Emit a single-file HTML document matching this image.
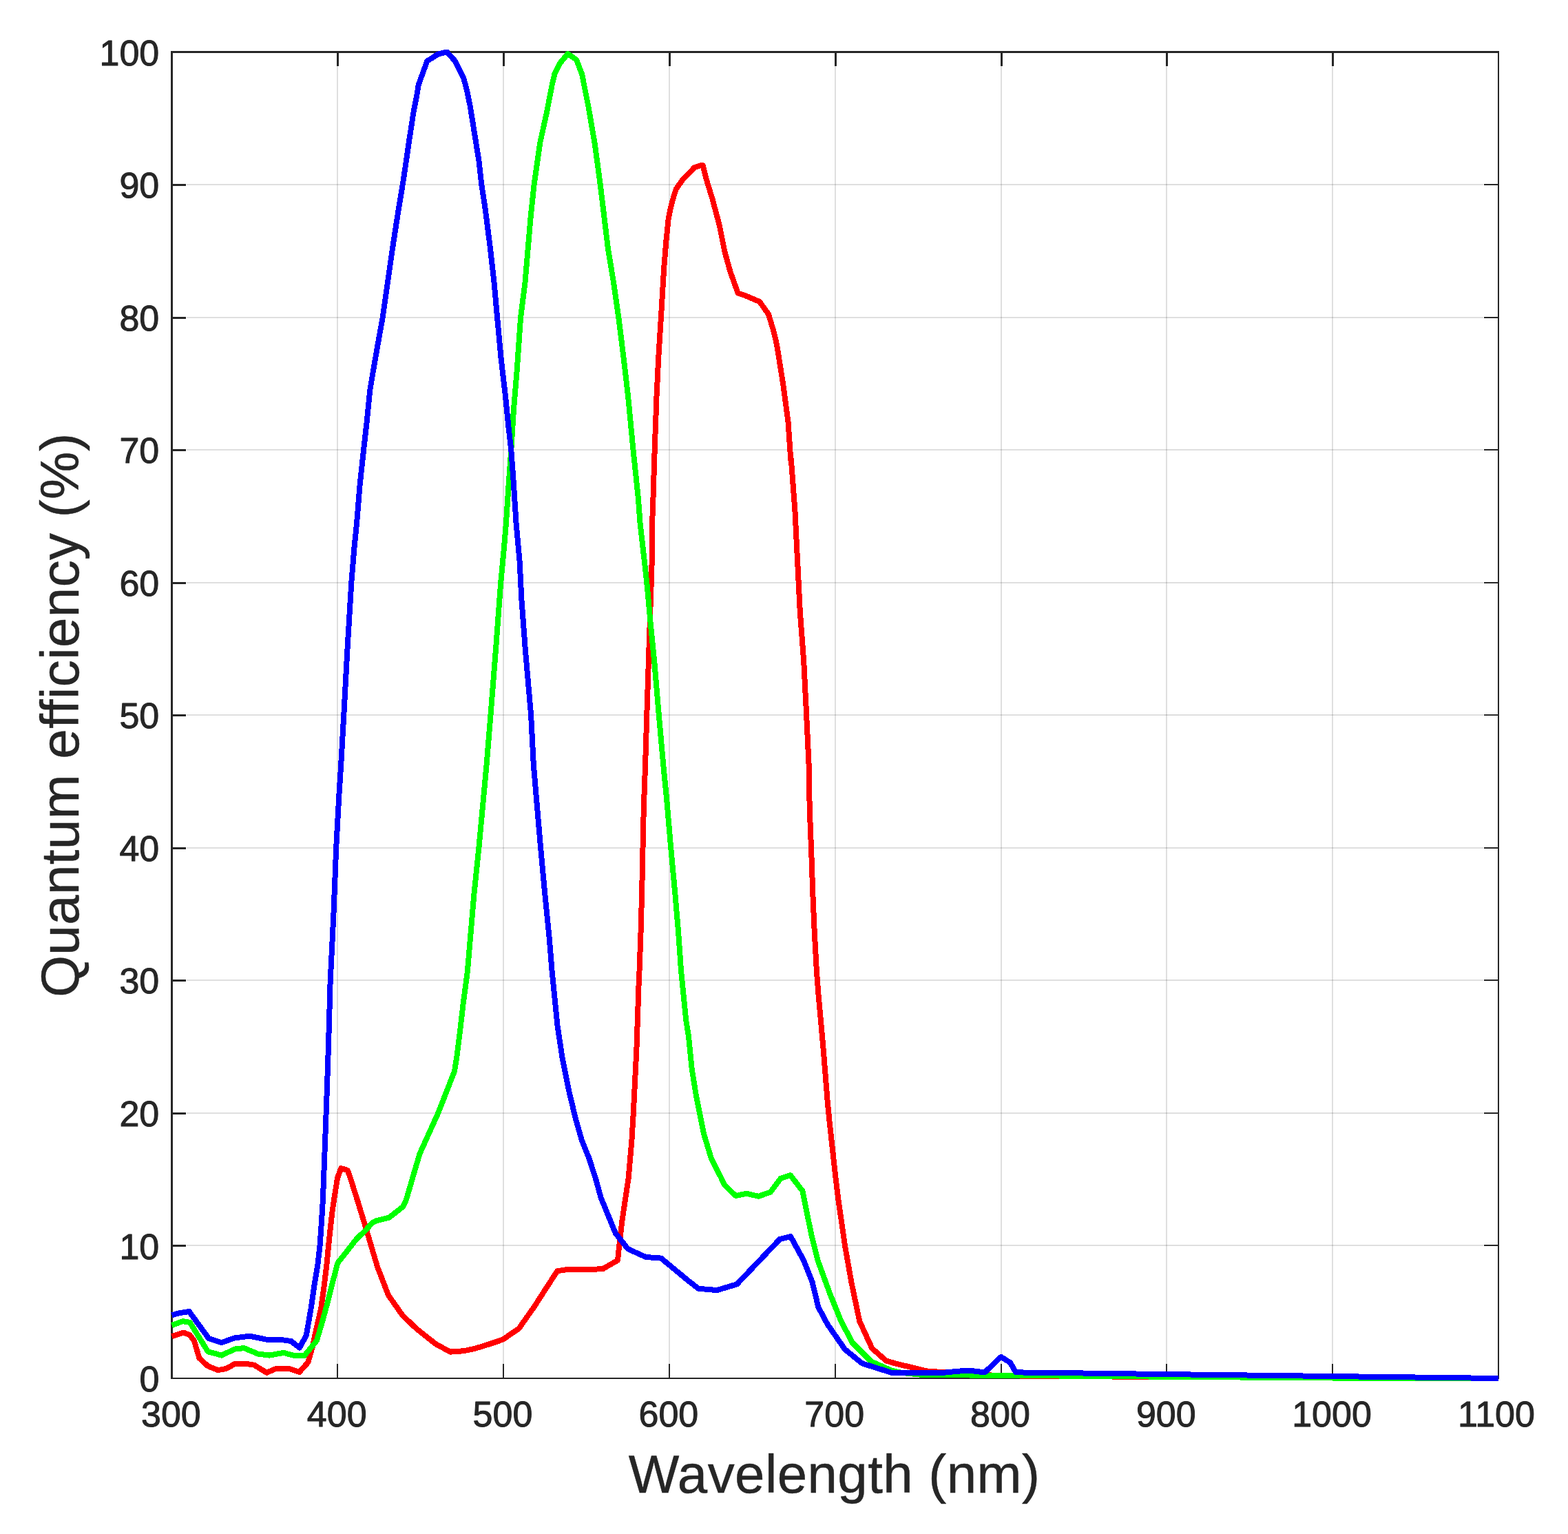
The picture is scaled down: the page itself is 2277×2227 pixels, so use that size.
<!DOCTYPE html>
<html lang="en"><head><meta charset="utf-8"><title>Quantum efficiency vs wavelength</title>
<style>html,body{margin:0;padding:0;background:#fff}body{width:2277px;height:2227px;overflow:hidden}svg{display:block}text{font-family:"Liberation Sans",Arial,Helvetica,sans-serif;fill:#262626;font-kerning:normal;font-variant-ligatures:none}</style>
</head><body>
<svg xmlns="http://www.w3.org/2000/svg" width="2277" height="2227" viewBox="0 0 2277 2227">
<rect x="0" y="0" width="2277" height="2227" fill="#fff"/>
<g fill="#262626" fill-opacity="0.15" shape-rendering="crispEdges">
<rect x="489" y="96" width="2" height="1884"/>
<rect x="730" y="96" width="2" height="1884"/>
<rect x="971" y="96" width="2" height="1884"/>
<rect x="1212" y="96" width="2" height="1884"/>
<rect x="1453" y="96" width="2" height="1884"/>
<rect x="1693" y="96" width="2" height="1884"/>
<rect x="1934" y="96" width="2" height="1884"/>
<rect x="271" y="1807" width="1883" height="2"/>
<rect x="271" y="1615" width="1883" height="2"/>
<rect x="271" y="1422" width="1883" height="2"/>
<rect x="271" y="1230" width="1883" height="2"/>
<rect x="271" y="1037" width="1883" height="2"/>
<rect x="271" y="845" width="1883" height="2"/>
<rect x="271" y="652" width="1883" height="2"/>
<rect x="271" y="460" width="1883" height="2"/>
<rect x="271" y="267" width="1883" height="2"/>
</g>
<g fill="#262626" shape-rendering="crispEdges">
<rect x="248" y="74" width="1929" height="3"/>
<rect x="248" y="74" width="3" height="1928"/>
<rect x="248" y="2000" width="1929" height="2"/>
<rect x="2175" y="74" width="2" height="1928"/>
<rect x="489" y="77" width="3" height="19"/>
<rect x="489" y="1980" width="2" height="20"/>
<rect x="730" y="77" width="3" height="19"/>
<rect x="730" y="1980" width="2" height="20"/>
<rect x="971" y="77" width="3" height="19"/>
<rect x="971" y="1980" width="2" height="20"/>
<rect x="1212" y="77" width="3" height="19"/>
<rect x="1212" y="1980" width="2" height="20"/>
<rect x="1453" y="77" width="3" height="19"/>
<rect x="1453" y="1980" width="2" height="20"/>
<rect x="1693" y="77" width="3" height="19"/>
<rect x="1693" y="1980" width="2" height="20"/>
<rect x="1934" y="77" width="3" height="19"/>
<rect x="1934" y="1980" width="2" height="20"/>
<rect x="251" y="1807" width="19" height="3"/>
<rect x="2155" y="1807" width="20" height="2"/>
<rect x="251" y="1615" width="19" height="3"/>
<rect x="2155" y="1615" width="20" height="2"/>
<rect x="251" y="1422" width="19" height="3"/>
<rect x="2155" y="1422" width="20" height="2"/>
<rect x="251" y="1230" width="19" height="3"/>
<rect x="2155" y="1230" width="20" height="2"/>
<rect x="251" y="1037" width="19" height="3"/>
<rect x="2155" y="1037" width="20" height="2"/>
<rect x="251" y="845" width="19" height="3"/>
<rect x="2155" y="845" width="20" height="2"/>
<rect x="251" y="652" width="19" height="3"/>
<rect x="2155" y="652" width="20" height="2"/>
<rect x="251" y="460" width="19" height="3"/>
<rect x="2155" y="460" width="20" height="2"/>
<rect x="251" y="267" width="19" height="3"/>
<rect x="2155" y="267" width="20" height="2"/>
</g>
<clipPath id="c"><rect x="248" y="72" width="1928" height="1934"/></clipPath>
<g clip-path="url(#c)">
<polyline points="249.5,1940.3 266.3,1934.5 275.7,1938.2 282.0,1946.6 289.4,1971.8 302.0,1983.3 316.7,1989.1 328.2,1987.0 341.9,1979.6 355.5,1979.6 369.2,1981.7 387.1,1992.8 401.8,1986.5 418.6,1986.5 434.7,1992.0 447.3,1977.9 453.6,1955.8 459.1,1930.6 466.2,1899.1 470.6,1867.6 474.4,1836.1 477.2,1807.7 480.0,1780.9 482.7,1757.3 486.3,1733.6 490.1,1710.0 495.3,1696.0 504.8,1699.1 508.7,1710.0 519.7,1744.7 530.8,1780.9 538.7,1807.7 548.1,1839.2 563.9,1880.2 584.3,1909.3 604.8,1929.0 633.2,1951.5 653.9,1962.6 663.1,1962.1 674.7,1961.0 686.2,1958.6 697.8,1955.4 709.4,1951.7 720.9,1947.9 730.2,1944.7 753.6,1928.6 775.6,1897.3 809.2,1845.3 822.9,1843.1 874.9,1842.4 897.0,1829.7 899.3,1807.7 903.3,1773.0 908.0,1741.5 912.7,1710.0 917.4,1655.8 919.8,1615.8 922.2,1567.6 924.5,1520.3 926.1,1473.0 927.7,1425.8 928.5,1410.0 930.8,1346.3 932.4,1283.3 933.5,1230.7 934.8,1173.0 937.1,1110.0 939.3,1037.9 941.2,980.6 943.0,925.4 944.9,870.3 946.7,815.1 947.1,760.0 948.5,722.5 950.7,653.0 953.5,575.4 956.2,520.3 959.9,460.9 964.2,389.1 967.4,349.7 970.6,318.2 973.8,302.4 978.3,285.1 982.0,274.1 991.3,261.0 1008.3,243.3 1017.2,240.2 1020.7,240.2 1025.6,259.9 1034.3,288.2 1044.5,326.1 1052.4,365.4 1060.3,393.8 1071.5,425.4 1084.5,430.0 1103.3,438.2 1116.0,456.3 1122.4,477.3 1128.0,500.0 1137.1,557.1 1144.5,612.2 1148.3,667.4 1148.9,667.4 1154.4,740.9 1158.1,814.4 1161.8,887.9 1167.3,961.5 1171.0,1035.0 1174.6,1110.0 1175.7,1173.0 1178.0,1230.7 1180.4,1299.1 1182.8,1354.2 1185.9,1410.0 1188.3,1441.5 1195.4,1520.3 1201.7,1599.1 1204.8,1630.6 1213.5,1710.0 1217.4,1741.5 1226.9,1807.7 1236.3,1861.3 1248.2,1918.0 1266.3,1957.4 1286.8,1975.5 1300.0,1979.4 1345.7,1990.4 1420.0,1996.0 1500.0,1998.0 2176.0,2001.0" fill="none" stroke="#ff0000" stroke-width="8" stroke-linejoin="round" stroke-linecap="butt" shape-rendering="crispEdges"/>
<polyline points="249.5,1924.0 265.2,1918.2 275.7,1919.8 302.0,1962.3 321.9,1967.6 340.8,1958.6 354.5,1957.1 374.5,1965.5 391.3,1967.6 411.7,1963.9 425.9,1967.6 441.8,1968.4 459.9,1946.3 467.8,1919.6 475.6,1891.2 483.5,1859.7 490.4,1833.5 503.0,1817.6 517.7,1798.7 530.3,1786.6 540.8,1775.1 545.5,1772.6 565.0,1767.7 585.0,1752.0 589.5,1743.0 595.7,1722.0 601.8,1701.0 609.6,1674.7 636.3,1615.8 652.1,1575.4 660.0,1555.0 663.1,1536.1 667.9,1498.2 672.6,1457.3 678.9,1410.0 688.3,1299.1 695.4,1230.7 706.6,1110.0 712.5,1037.9 719.9,943.8 727.2,846.0 731.8,796.8 734.9,760.0 738.6,704.1 742.3,653.0 746.0,593.8 750.6,538.7 756.1,460.9 762.5,410.0 770.9,312.1 775.6,268.0 784.3,207.0 793.6,165.0 801.7,123.0 805.6,106.5 813.4,91.5 824.5,78.1 837.1,86.8 845.0,107.3 854.4,154.5 863.9,209.7 871.7,268.0 878.0,320.0 882.8,360.0 891.0,410.0 898.3,460.9 905.7,520.3 912.1,575.4 919.5,653.0 926.8,722.5 929.6,760.0 933.8,796.8 939.3,846.0 944.9,907.1 950.4,962.2 956.8,1037.9 963.2,1110.0 967.9,1157.3 974.2,1230.7 980.5,1299.1 985.2,1354.2 989.1,1410.0 991.5,1433.6 996.2,1480.9 1000.0,1504.5 1004.7,1551.8 1011.0,1591.2 1017.3,1622.7 1022.1,1646.3 1033.1,1682.6 1047.3,1710.0 1052.0,1720.2 1068.5,1736.0 1084.3,1732.8 1101.6,1736.8 1119.0,1730.5 1133.9,1710.6 1147.8,1706.2 1165.4,1728.9 1173.3,1768.3 1179.6,1798.2 1187.5,1829.7 1204.8,1877.0 1220.6,1916.4 1237.9,1949.5 1264.7,1976.3 1294.6,1989.7 1310.0,1993.0 1340.0,1996.0 1420.0,1996.6 1680.0,1998.6 2000.0,2001.0 2176.0,2001.5" fill="none" stroke="#00ff00" stroke-width="8" stroke-linejoin="round" stroke-linecap="butt" shape-rendering="crispEdges"/>
<polyline points="249.5,1909.3 261.0,1906.1 274.7,1904.0 303.0,1942.9 321.4,1949.2 340.8,1942.4 362.9,1939.7 386.0,1944.5 412.3,1945.5 422.8,1947.1 435.0,1956.6 444.9,1938.5 446.2,1930.6 451.7,1899.1 456.2,1867.6 461.4,1836.1 464.6,1807.7 467.0,1773.0 468.9,1741.5 470.1,1710.0 472.5,1646.3 474.8,1583.3 476.9,1520.3 478.3,1473.0 479.6,1425.8 484.3,1330.6 488.2,1230.7 492.2,1157.3 495.2,1110.0 499.3,1037.9 504.4,943.8 510.3,846.0 514.3,796.8 518.0,760.0 522.6,704.1 528.1,653.0 532.7,612.2 537.3,566.2 541.9,538.7 548.3,501.9 555.7,460.9 560.3,428.4 570.1,360.0 577.5,312.0 586.0,260.0 590.7,228.0 593.7,207.0 597.0,186.0 600.1,165.0 605.4,137.7 607.8,123.0 613.5,107.3 620.2,88.8 635.5,78.9 648.9,75.4 660.7,88.4 673.3,113.6 678.0,130.9 682.8,154.5 689.1,193.9 695.4,233.3 699.3,268.0 704.8,304.2 711.9,360.0 717.5,410.0 722.1,460.9 727.6,520.3 734.0,575.4 738.6,621.4 742.3,653.0 746.0,704.1 749.6,760.0 754.6,815.1 757.4,870.3 762.9,943.8 771.1,1037.9 774.8,1110.0 778.8,1157.3 785.1,1230.7 791.4,1299.1 797.7,1362.1 801.6,1410.0 804.8,1441.5 809.5,1488.8 816.6,1536.1 826.1,1583.3 835.5,1622.7 845.0,1655.8 855.2,1681.0 864.7,1710.0 872.5,1738.4 893.8,1790.4 911.9,1813.2 937.9,1825.0 960.0,1826.6 1000.0,1859.7 1014.2,1870.7 1041.0,1873.1 1070.1,1864.4 1132.4,1799.0 1148.1,1795.1 1167.0,1829.7 1179.6,1861.3 1188.3,1897.5 1201.7,1922.7 1226.9,1958.9 1252.1,1979.4 1294.6,1992.8 1362.2,1993.5 1395.0,1990.4 1413.5,1990.4 1430.0,1992.4 1453.6,1969.9 1467.0,1978.1 1475.2,1992.4 1526.5,1992.9 1680.0,1994.9 2176.0,2001.0" fill="none" stroke="#0000ff" stroke-width="8" stroke-linejoin="round" stroke-linecap="butt" shape-rendering="crispEdges"/>
</g>
<g font-size="52" stroke="#262626" stroke-width="1.0" stroke-linejoin="round">
<text x="205.0" y="2071.1">300</text>
<text x="445.8" y="2071.1">400</text>
<text x="686.6" y="2071.1">500</text>
<text x="927.5" y="2071.1">600</text>
<text x="1168.3" y="2071.1">700</text>
<text x="1409.1" y="2071.1">800</text>
<text x="1649.9" y="2071.1">900</text>
<text x="1876.2" y="2071.1">1000</text>
<text x="2117.1" y="2071.1">1100</text>
<text x="231.3" y="2020.0" text-anchor="end">0</text>
<text x="231.3" y="1827.5" text-anchor="end">10</text>
<text x="231.3" y="1634.9" text-anchor="end">20</text>
<text x="231.3" y="1442.3" text-anchor="end">30</text>
<text x="231.3" y="1249.8" text-anchor="end">40</text>
<text x="231.3" y="1057.2" text-anchor="end">50</text>
<text x="231.3" y="864.7" text-anchor="end">60</text>
<text x="231.3" y="672.2" text-anchor="end">70</text>
<text x="231.3" y="479.6" text-anchor="end">80</text>
<text x="231.3" y="287.0" text-anchor="end">90</text>
<text x="231.3" y="94.5" text-anchor="end">100</text>
</g>
<g font-size="78" stroke="#262626" stroke-width="0.5" stroke-linejoin="round" letter-spacing="0.45">
<text x="1211.5" y="2166.6" text-anchor="middle">Wavelength (nm)</text>
<text transform="translate(113.6,1038.2) rotate(-90)" text-anchor="middle">Quantum efficiency (%)</text>
</g>
</svg></body></html>
